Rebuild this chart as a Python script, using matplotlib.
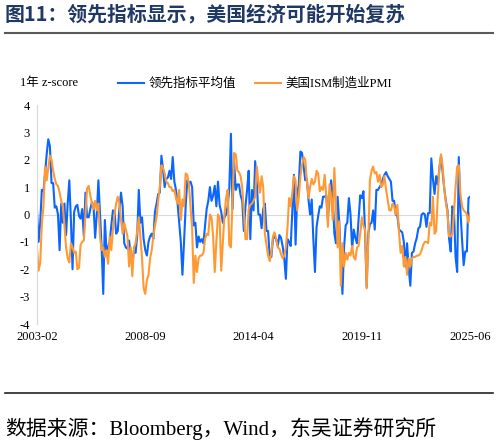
import matplotlib.pyplot as plt
import pandas as pd

# monthly, 2003-02 .. 2025-06
months = pd.period_range("2003-02", "2025-06", freq="M")

# 领先指标平均值 (1y z-score)
lead_avg = [
    0.15, -1.0, -0.3, 0.9, 0.85, 1.5, 2.2, 2.75, 2.5, 1.15,
    1.15, 0.25, 0.3, 0.0, -1.3, 0.4, -0.3, 0.4, -0.75, 0.4,
    1.25, -0.2, -2.0, 0.1, 0.3, 0.35, -0.05, -0.15, 0.2, -0.8,
    0.8, -0.1, -0.1, 0.2, 0.45, 0.3, -0.85, 0.0, 1.25, 0.0,
    -1.2, -2.9, -0.2, -1.3, -1.2, -1.0, -0.4, 0.15, 0.1, -0.7,
    -0.6, 0.2, 0.8, 0.3, -1.05, -1.2, -1.25, -0.95, -1.5, -1.8,
    -1.3, -1.4, -0.8, 0.9, -0.3, -0.1, -0.9, -1.3, -1.5, -1.0,
    -0.8, -0.7, -0.9, 0.1, 0.4, 0.75, 0.8, 2.15, 1.65, 1.0,
    1.3, 1.35, 1.6, 1.3, 2.1, 1.2, 0.9, 0.4, -0.3, -1.0,
    -2.2, -1.0, 0.3, 1.25, 1.15, 1.2, 1.0, -0.4, -0.3, -1.2,
    -0.8, -1.0, -0.9, -1.05, -0.4, 0.2, 0.5, 1.0, 0.5, 0.7,
    1.05, 0.3, 1.2, 0.35, 0.1, -0.3, -0.1, 0.0, 0.3, 0.95,
    2.95, 0.2, 1.9, 0.9, 1.1, 1.1, 0.7, 0.5, -0.6, 0.3,
    0.9, 1.6, -0.9, 0.9, 0.15, 1.95, 1.2, 0.0, 0.0, -0.5,
    0.2, 0.4, -0.6, -0.6, -1.55, -1.55, -0.9, -0.8, -0.9, -1.15,
    -0.75, -0.85, -1.15, -1.6, -2.35, -0.9, -1.0, -1.15, 0.15, 1.45,
    -1.1, 0.7, 1.1, 2.3, 2.25, 1.75, 1.25, 1.3, 0.55, 0.0,
    0.55, -0.9, -2.1, -0.45, -0.05, 0.3, 0.25, 0.65, 0.65, 0.7,
    -0.15, 0.65, 1.25, 0.65, -0.7, -1.05, 0.65, -0.25, -1.6, -2.9,
    -1.2, -0.4, -0.3, 0.6, 0.0, -1.25, -0.55, -0.85, -1.05, -0.2,
    0.7, 0.6, 0.85, -0.65, -2.65, -0.7, -0.35, -0.3, 0.15, -0.55,
    0.9, 0.9, 1.0, 1.1, 1.3, 1.45, 1.55, 1.4, 1.3, 1.2,
    0.5, 0.5, 0.0, -0.05, -0.55, -0.6, -0.65, -1.0, -1.9, -1.05,
    -1.95, -2.6, -1.4, -1.35, -1.05, -0.85, -0.5, -0.45, 0.0, 0.05,
    0.0, -0.45, 0.05, 0.05, 2.05, 1.3, 0.75, 1.4, 1.1, 1.7,
    2.15, 1.55, 0.95, 0.5, 0.15, -0.9, -1.35, 0.3, 0.15, -1.55,
    -2.1, 2.1, 0.15, -0.9, -1.85, -1.35, -1.35, 0.6, 0.65,
]

# 美国ISM制造业PMI (1y z-score)
ism_pmi = [
    -1.2, -2.05, -1.75, -0.35, 0.3, 1.75, 1.25, 1.7, 2.15, 2.0,
    1.6, 1.3, 1.1, 1.05, 0.8, 0.5, 0.3, -0.4, -1.2, -1.6,
    -1.75, -1.05, -1.2, -1.4, -1.35, -2.0, -1.95, -1.1, -1.0, -0.95,
    0.0, 0.95, 1.05, 0.7, 0.4, 0.2, 0.5, 0.15, 0.4, -0.8,
    -1.3, -1.2, -1.55, -1.3, -1.8, -0.8, -1.3, -0.55, 0.05, 0.4,
    0.65, 0.4, -0.2, -0.7, -0.3, -0.55, -0.8, -1.9, -1.2, -2.25,
    -1.2, -1.05, -0.6, -0.1, -0.8, -1.6, -2.7, -2.9, -2.4, -2.2,
    -1.6, -1.3, -0.8, -0.4, -0.1, 0.5, 1.0, 1.8, 1.7, 1.5,
    1.2, 1.15, 1.0, 1.0, 0.85, 0.9, 0.6, 0.4, 0.9, -0.2,
    0.55, 0.3, 1.5, 1.45, 1.1, 0.3, -0.5, -2.5, -1.5, -2.1,
    -1.6, -1.5, -1.5, -1.4, -0.9, -0.7, -0.75, 0.0, -0.1, -0.8,
    -2.1, -1.0, 0.0, -0.1, -2.05, -1.0, 0.0, 0.6, 0.9, -1.1,
    -1.2, 0.5, 2.25, 2.2, 1.6, 1.55, 1.4, 1.0, 0.1, -0.9,
    -0.9, 0.2, 0.35, 0.4, 0.5, 0.65, 1.75, 1.2, 0.8, 1.4,
    1.0, -0.7, -1.1, -1.5, -1.7, -1.4, -0.8, -0.65, -0.9, -1.2,
    -1.25, -1.45, -1.6, -1.5, -1.2, -0.5, 0.6, 0.3, 0.8, 1.4,
    1.25, 0.15, 0.65, 1.4, 1.8, 2.1, 2.0, 1.2, 0.6, 1.0,
    1.3, 1.1, 1.2, 1.6, 1.5, 0.85, 1.0, 0.9, 1.45, 0.7,
    -0.45, 1.1, 0.65, -0.2, 1.7, 0.3, -1.2, -0.25, -2.6, -1.05,
    -1.9, -1.4, -1.65, -1.4, -1.5, -1.15, -1.55, -1.65, -1.2, -1.15,
    -0.7, -0.1, -0.4, -0.55, -2.7, -0.95, 1.25, 1.6, 1.75, 1.5,
    1.55, 1.2, 1.45, 1.0, 1.1, 1.4, 0.9, 0.55, 0.15, 0.15,
    0.4, 0.3, 0.0, 0.35, -0.65, -1.4, -1.15, -1.9, -1.55, -2.2,
    -1.6, -1.9, -1.6, -1.55, -1.55, -1.5, -1.5, -1.45, -1.3, -1.1,
    -1.0, -1.0, -1.05, -0.3, -0.4, 0.65, -0.7, -0.6, 0.65, 1.7,
    2.2, 1.75, 0.95, 0.45, 0.05, -0.8, -0.8, -0.7, 0.05, 1.0,
    1.75, 1.8, 0.75, 0.3, 0.15, 0.1, 0.0, -0.3, 0.05,
]

tick_every = 67
yticks = [4, 3, 2, 1, 0, -1, -2, -3, -4]

serif = ['Liberation Serif', 'Noto Sans CJK SC']
cjk = ['Noto Sans CJK SC', 'DejaVu Sans']

fig = plt.figure(figsize=(4.99, 4.46), dpi=100)
ax = fig.add_axes([0.0741, 0.2735, 0.868, 0.491])

x = list(range(len(months)))
ax.axhline(0, color='#d9d9d9', lw=0.8, zorder=0)
ax.plot(x, lead_avg, color='#0a66ff', lw=1.5, label='领先指标平均值')
ax.plot(x, ism_pmi, color='#ff9933', lw=1.5, label='美国ISM制造业PMI')

ax.set_xlim(0, len(months) - 1)
ax.set_ylim(-4, 4)
xt = x[::tick_every]
ax.set_xticks(xt)
ax.set_xticklabels([months[i].strftime('%Y-%m') for i in xt], family=serif, fontsize=9)
ax.set_yticks(yticks)
ax.set_yticklabels([str(v) for v in yticks], family=serif, fontsize=9)
ax.tick_params(length=0, pad=5)
for s in ['top', 'right', 'bottom']:
    ax.spines[s].set_visible(False)
ax.spines['left'].set_color('#d9d9d9')

leg = ax.legend(loc='lower left', bbox_to_anchor=(0.175, 1.045), ncol=2, frameon=False,
                prop={'family': serif, 'size': 9}, handlelength=2.1, columnspacing=1.5,
                handletextpad=0.35, borderaxespad=0)

fig.text(0.04, 0.813, '1年 z-score', family=serif, fontsize=9, va='center')

# title and separators
fig.text(0.01, 0.968, '图11：领先指标显示，美国经济可能开始复苏', family=cjk,
         fontsize=14.3, fontweight='bold', color='#1f3864', va='center')
fig.add_artist(plt.Line2D([0.01, 0.988], [0.926, 0.926], color='#595959', lw=1.5))
fig.add_artist(plt.Line2D([0.01, 0.988], [0.119, 0.119], color='#222222', lw=1.2))
fig.text(0.01, 0.04, '数据来源：Bloomberg，Wind，东吴证券研究所', family=serif,
         fontsize=15, va='center')

fig.savefig('out.png', dpi=100)
